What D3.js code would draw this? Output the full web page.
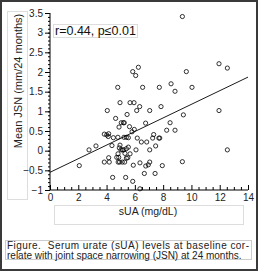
<!DOCTYPE html>
<html><head><meta charset="utf-8">
<script src="https://cdn.jsdelivr.net/npm/d3@7"></script>
<style>body{margin:0;background:#fff}svg{display:block;font-family:"Liberation Sans",Arial,sans-serif}</style>
</head><body>
<script>
const sUA = [9.36,11.95,12.54,6.25,5.85,6.06,9.64,4.79,6.55,7.73,10.04,8.56,8.84,4.95,5.66,5.94,6.34,7.85,6.13,7.05,4.05,11.95,5.45,9.43,4.64,5.04,5.19,5.25,6.76,8.49,4.88,5.62,5.96,5.80,8.25,8.84,3.84,4.01,4.15,4.12,4.48,4.80,5.23,5.40,5.54,6.17,7.33,7.26,7.70,7.76,6.46,6.84,3.25,4.38,4.95,7.47,2.76,4.90,5.02,5.12,5.22,5.40,5.54,6.08,7.05,12.54,4.81,5.30,5.66,4.15,4.72,4.86,5.40,5.50,2.07,3.84,4.19,4.82,4.92,5.11,5.28,6.36,7.05,9.36,5.89,6.77,6.95,7.94,4.43,5.35,6.67,7.43,5.85,6.36];
const JSN = [3.41,2.21,2.10,2.12,2.01,1.91,2.01,1.61,1.61,1.61,1.61,1.70,1.51,1.22,1.22,1.22,1.12,1.12,1.02,1.02,1.02,1.02,0.92,0.91,0.82,0.71,0.71,0.71,0.70,0.71,0.60,0.61,0.54,0.48,0.52,0.52,0.42,0.40,0.43,0.36,0.33,0.34,0.34,0.34,0.33,0.32,0.41,0.32,0.32,0.32,0.22,0.22,0.12,0.13,0.14,0.12,0.02,0.07,0.02,0.02,0.02,0.05,0.09,0.02,0.02,0.02,-0.08,-0.07,-0.08,-0.18,-0.17,-0.17,-0.19,-0.18,-0.38,-0.29,-0.29,-0.29,-0.29,-0.29,-0.29,-0.31,-0.29,-0.28,-0.37,-0.39,-0.36,-0.38,-0.68,-0.68,-0.58,-0.58,-0.78,-0.97];
const fitX = [0, 14];
const fitY = [-0.55, 1.87];
const xTicks = [0,2,4,6,8,10,12,14];
const yTicks = [-1,-0.5,0,0.5,1,1.5,2,2.5,3,3.5];
const yLabel = "Mean JSN (mm/24 months)";
const xLabel = "sUA (mg/dL)";
const statText = "r=0.44, p\u22640.01";
const caption = ["Figure.  Serum urate (sUA) levels at baseline cor-", "relate with joint space narrowing (JSN) at 24 months."];

const W=259,H=275;
const svg=d3.select("body").append("svg").attr("width",W).attr("height",H);
svg.append("rect").attr("x",1).attr("y",1).attr("width",256).attr("height",269).attr("fill","none").attr("stroke","#3a3a3a").attr("stroke-width",2);

const x=d3.scaleLinear().domain([0,14]).range([50,248]);
const y=d3.scaleLinear().domain([-1,3.5]).range([190,13]);

// label boxes
svg.append("rect").attr("x",7.5).attr("y",11.5).attr("width",20).attr("height",188).attr("fill","none").attr("stroke","#ddd");
svg.append("rect").attr("x",54.5).attr("y",205.5).attr("width",189).attr("height",19).attr("fill","none").attr("stroke","#ddd");
svg.append("rect").attr("x",5.5).attr("y",240.5).attr("width",246).attr("height",19).attr("fill","none").attr("stroke","#ccc");

// axes
const gy=svg.append("g").attr("transform","translate(50,0)")
  .call(d3.axisLeft(y).tickValues(d3.range(-1,3.51,0.1)).tickSize(2).tickFormat(""));
const gy2=svg.append("g").attr("transform","translate(50,0)")
  .call(d3.axisLeft(y).tickValues(yTicks).tickSize(5).tickPadding(2).tickFormat(d=>d3.format("")(d)));
const gx=svg.append("g").attr("transform","translate(0,190)")
  .call(d3.axisTop(x).tickValues(d3.range(0,14.01,0.5)).tickSize(3).tickFormat(""));
const gx2=svg.append("g").attr("transform","translate(0,190)")
  .call(d3.axisBottom(x).tickValues(xTicks).tickSize(0).tickPadding(4));
gx2.selectAll(".tick line").remove();
[gy,gy2,gx,gx2].forEach(g=>{
  g.selectAll(".domain").attr("stroke","#000");
  g.selectAll("line").attr("stroke","#000");
  g.selectAll("text").attr("font-size",10).attr("fill","#222").attr("font-family","Liberation Sans, Arial, sans-serif");
});
gy.select(".domain").remove();
gx.select(".domain").remove();
gy2.select(".domain").attr("d","M0,13V190");
gx2.select(".domain").attr("d","M50,0H248");
gx.selectAll(".tick line").attr("y2",d=>Number.isInteger(d/2)?-5:-3);

// regression line
svg.append("line").attr("x1",x(fitX[0])).attr("y1",y(fitY[0])).attr("x2",x(fitX[1])).attr("y2",y(fitY[1]))
  .attr("stroke","#000").attr("stroke-width",0.9);

// points
svg.append("g").selectAll("circle").data(sUA.map((v,i)=>[v,JSN[i]])).join("circle")
  .attr("cx",d=>x(d[0])).attr("cy",d=>y(d[1])).attr("r",2.1)
  .attr("fill","none").attr("stroke","#000").attr("stroke-width",0.8);

// stat box
svg.append("rect").attr("x",53.5).attr("y",24.5).attr("width",84).attr("height",13).attr("fill","#fff").attr("stroke","#ddd");
svg.append("text").attr("x",55).attr("y",35).attr("font-size",12.5).attr("fill","#111").text(statText);

// labels
svg.append("text").attr("transform","translate(22,81) rotate(-90)").attr("text-anchor","middle")
  .attr("font-size",11).attr("fill","#222").text(yLabel);
svg.append("text").attr("x",148).attr("y",215).attr("text-anchor","middle").attr("font-size",10.5).attr("fill","#222").text(xLabel);

// caption
svg.append("text").attr("x",7).attr("y",249).attr("font-size",10).attr("fill","#222")
  .attr("textLength",242).attr("lengthAdjust","spacing").style("white-space","pre").text(caption[0]);
svg.append("text").attr("x",7).attr("y",258.5).attr("font-size",10).attr("fill","#222").text(caption[1]);
</script>
</body></html>
